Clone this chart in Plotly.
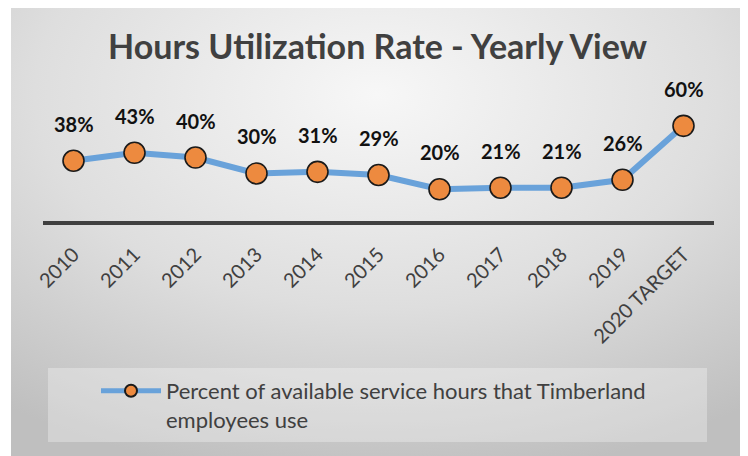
import base64
import plotly.graph_objects as go

categories = ["2010", "2011", "2012", "2013", "2014", "2015", "2016", "2017", "2018", "2019", "2020 TARGET"]
values = [38, 43, 40, 30, 31, 29, 20, 21, 21, 26, 60]
labels = ["38%", "43%", "40%", "30%", "31%", "29%", "20%", "21%", "21%", "26%", "60%"]
series_name = "Percent of available service hours that Timberland<br>employees use"
title_text = "Hours Utilization Rate - Yearly View"

# page offset (browser body margin)
OFF = 8
W, H = 748 - OFF, 456 - OFF
# plot area in page coords: x 43..714, y 110..221
ML, MR = 43 - OFF, W - (714 - OFF)
MT, MB = 110 - OFF, H - (221 - OFF)
PW, PH = W - ML - MR, H - MT - MB

def px(x):
    return (x - OFF - ML) / PW

def py(y):
    return (MT + PH - (y - OFF)) / PH

FONT = "Lato, 'Open Sans', sans-serif"
TXT = "#404040"

svg = """<svg xmlns='http://www.w3.org/2000/svg' width='732' height='453' preserveAspectRatio='none'>
<defs><radialGradient id='g' cx='50%' cy='20%' r='85%'>
<stop offset='0' stop-color='#f7f7f7'/><stop offset='0.55' stop-color='#dedede'/><stop offset='1' stop-color='#bfbfbf'/>
</radialGradient></defs><rect x='0' y='0' width='732' height='453' fill='url(#g)'/></svg>"""
bg_src = "data:image/svg+xml;base64," + base64.b64encode(svg.encode()).decode()

fig = go.Figure()
fig.add_trace(go.Scatter(
    x=list(range(len(categories))), y=values, mode="lines+markers", name=series_name,
    line=dict(color="#69a2da", width=6),
    marker=dict(size=21, color="#ed8a3f", line=dict(color="#1a1a1a", width=1.6)),
    cliponaxis=False,
))

for i, (v, t) in enumerate(zip(values, labels)):
    fig.add_annotation(x=i, y=v, text="<b>" + t + "</b>", showarrow=False,
                       yshift=37, yanchor="middle",
                       font=dict(family=FONT, size=20, color="#111111"))

fig.update_layout(
    width=W, height=H,
    margin=dict(l=ML, r=MR, t=MT, b=MB),
    paper_bgcolor="white", plot_bgcolor="rgba(0,0,0,0)",
    title=dict(text="<b>" + title_text + "</b>", x=(377.5 - OFF) / W, xanchor="center",
               y=1 - (47 - OFF) / H, yanchor="middle",
               font=dict(family=FONT, size=34, color=TXT)),
    xaxis=dict(range=[-0.5, 10.5], showgrid=False, zeroline=False,
               tickmode="array", tickvals=list(range(len(categories))), ticktext=categories,
               showline=True, linecolor="#404040", linewidth=4,
               tickangle=-45, ticks="outside", ticklen=10, tickcolor="rgba(0,0,0,0)",
               tickfont=dict(family=FONT, size=20, color=TXT)),
    yaxis=dict(range=[0, 70], visible=False, showgrid=False, zeroline=False),
    showlegend=True,
    legend=dict(x=px(96), y=py(370), xanchor="left", yanchor="top",
                bgcolor="rgba(0,0,0,0)", font=dict(family=FONT, size=22, color=TXT),
                itemwidth=60, itemsizing="constant", valign="top"),
    images=[dict(source=bg_src, xref="paper", yref="paper", x=px(11), y=py(3),
                 sizex=px(743) - px(11), sizey=py(3) - py(460), sizing="stretch",
                 xanchor="left", yanchor="top", layer="below")],
    shapes=[dict(type="rect", xref="paper", yref="paper", x0=px(48), x1=px(707),
                 y0=py(442), y1=py(368), fillcolor="rgba(255,255,255,0.3)",
                 line=dict(width=0), layer="below")],
)

fig.write_html("out.html")
